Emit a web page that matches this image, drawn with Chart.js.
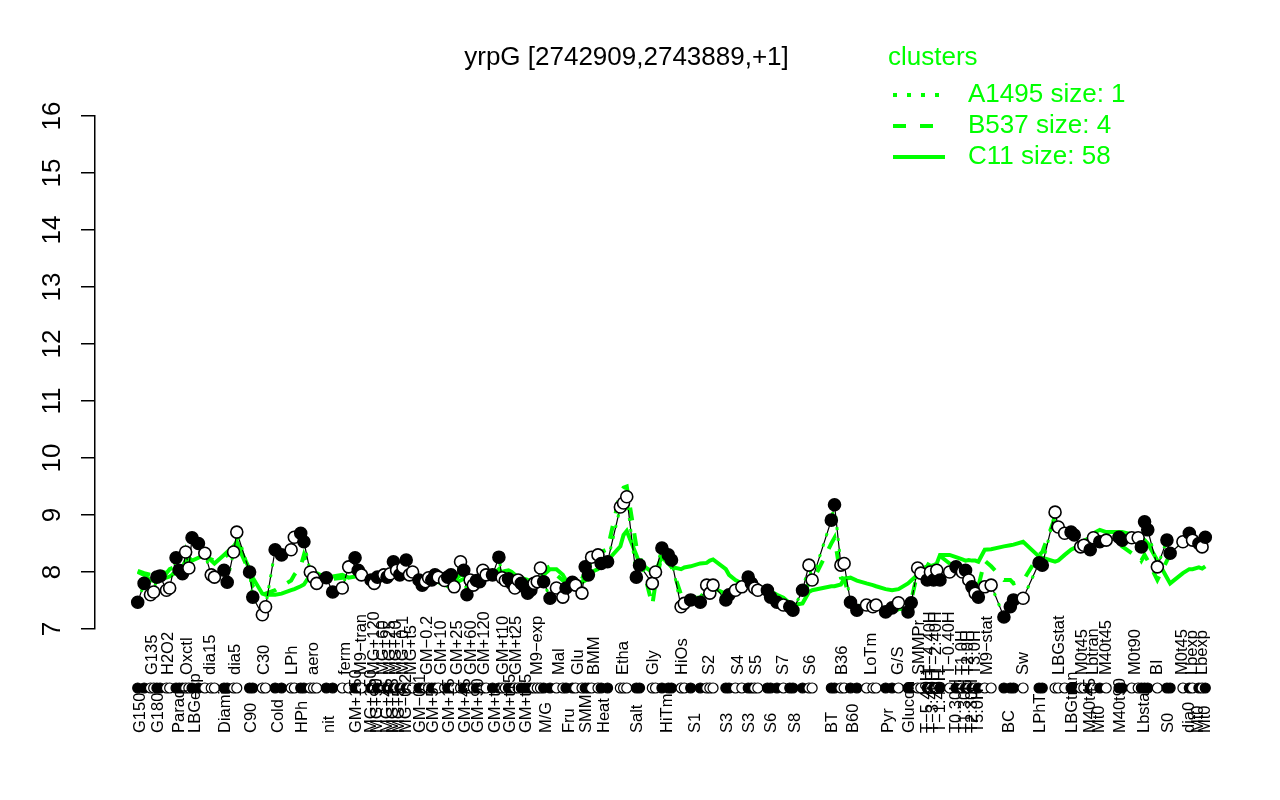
<!DOCTYPE html>
<html><head><meta charset="utf-8">
<script src="https://cdn.jsdelivr.net/npm/chart.js@4.4.0/dist/chart.umd.min.js"></script>
<style>html,body{margin:0;padding:0;background:#fff}#wrap{width:1280px;height:800px}</style>
</head><body><div id="wrap"><canvas id="c" width="1280" height="800"></canvas></div>
<script>
const chartTitle = 'yrpG [2742909,2743889,+1]';
const legendTitle = 'clusters';
const clusterNames = ['A1495 size: 1', 'B537 size: 4', 'C11 size: 58'];
const yTickRange = [7, 16];

const conditions = [
 'G150','G150','G135','G135','G180','G180','H2O2','H2O2','Paraq','Paraq',
 'Paraq','Oxctl','Oxctl','LBGexp','LBGexp','dia15','dia15','dia15','Diami','Diami',
 'dia5','dia5','C90','C90','C30','C30','Cold','Cold','LPh','LPh',
 'HPh','HPh','aero','aero','aero','nit','nit','ferm','ferm','GM+150',
 'GM+150','M9\u2212tran','MG+150','MG+120','MG+90','MG+60','MG+45','MG+25','MG+15','MG+10',
 'MG+5','MG\u22120.1','MG\u22120.2','MG+t5','MG+t5','GM\u22120.1','GM\u22120.1','GM\u22120.2','GM\u22120.2','GM+5',
 'GM+5','GM+10','GM+10','GM+15','GM+15','GM+25','GM+25','GM+45','GM+45','GM+60',
 'GM+60','GM+90','GM+90','GM+120','GM+120','GM+t5','GM+t5','GM+t10','GM+t10','GM+t15',
 'GM+t15','GM+t25','GM+t25','GM+t45','GM+t45','GM+t45','GM+t45','M9\u2212exp','M9\u2212exp','M9\u2212exp',
 'M/G','M/G','Mal','Mal','Fru','Fru','Glu','Glu','SMM','SMM',
 'BMM','BMM','Heat','Heat','Etha','Etha','Etha','Salt','Salt','Gly',
 'Gly','HiTm','HiTm','HiTm','HiOs','HiOs','S1','S1','S2','S2',
 'S2','S3','S3','S4','S4','S3','S3','S5','S5','S6',
 'S6','S6','S7','S8','S8','S8','S6','S6','BT','BT',
 'B36','B36','B60','B60','LoTm','LoTm','LoTm','Pyr','Pyr','G/S',
 'Glucon','Glucon','SMMPr','SMMPr','T\u22125.40H','T\u22124.40H','T\u22123.40H','T\u22122.40H','T\u22121.40H','T\u22120.40H',
 'T0.30H','T1.0H','T1.30H','T2.0H','T2.30H','T3.0H','T5.0H','M9\u2212stat','M9\u2212stat','BC',
 'BC','BC','Sw','LPhT','LPhT','LBGstat','LBGstat','LBGstat','LBGtran','LBGtran',
 'M0t45','M0t45','M40t45','Lbtran','Mt0','M40t45','M40t90','M40t90','M0t90','M0t90',
 'Lbstat','Lbstat','Lbstat','BI','S0','S0','M0t45','dia0','Lbexp','Mt0',
 'Lbexp','Mt0'
];

const positions = [
 1,3,5,6,7,8,10,11,13,14,
 15,16,17,18,20,22,24,25,28,29,
 31,32,36,37,40,41,44,46,49,50,
 52,53,55,56,57,60,62,65,67,69,
 70,71,74,75,76,78,79,80,81,82,
 83,84,85,86,87,89,90,91,92,93,
 94,95,97,98,99,100,102,103,104,105,
 106,107,108,109,110,112,114,115,116,117,
 118,119,120,121,122,123,124,125,126,127,
 128,130,132,134,135,137,138,140,141,142,
 143,145,146,148,152,153,154,157,158,162,
 163,165,167,168,171,172,174,177,179,180,
 181,185,186,188,190,192,193,194,195,198,
 199,201,203,205,206,209,211,212,218,219,
 221,222,224,226,229,231,232,235,237,239,
 242,243,245,246,248,249,250,251,252,255,
 257,259,260,261,262,263,264,266,268,272,
 274,275,278,283,284,288,289,291,293,294,
 296,297,299,300,302,304,308,309,312,314,
 315,316,317,320,323,324,328,330,331,333,
 334,335
];

const expression = [
 7.47,7.80,7.60,7.65,7.91,7.93,7.68,7.72,8.25,8.03,
 7.97,8.35,8.07,8.60,8.50,8.33,7.95,7.91,8.03,7.82,
 8.35,8.70,8.00,7.56,7.25,7.39,8.39,8.30,8.39,8.61,
 8.68,8.53,8.00,7.90,7.80,7.90,7.65,7.72,8.09,8.25,
 8.03,7.95,7.86,7.80,7.91,7.95,7.91,7.97,8.18,8.03,
 7.95,8.08,8.21,7.95,8.00,7.86,7.77,7.83,7.90,7.86,
 7.95,7.91,7.85,7.91,7.95,7.74,8.18,8.03,7.60,7.86,
 7.77,7.85,7.83,8.03,7.95,7.95,8.26,7.90,7.85,7.88,
 7.80,7.72,7.86,7.80,7.74,7.63,7.68,7.80,7.83,8.07,
 7.83,7.54,7.72,7.56,7.72,7.82,7.77,7.63,8.09,7.95,
 8.26,8.30,8.15,8.18,9.14,9.21,9.32,7.91,8.12,7.80,
 8.00,8.42,8.30,8.21,7.39,7.45,7.51,7.47,7.77,7.63,
 7.77,7.51,7.60,7.68,7.74,7.91,7.80,7.72,7.68,7.68,
 7.56,7.47,7.42,7.39,7.33,7.68,8.12,7.86,8.91,9.18,
 8.12,8.15,7.47,7.33,7.42,7.39,7.42,7.30,7.37,7.46,
 7.30,7.46,8.07,7.98,7.86,8.00,7.86,8.03,7.86,8.00,
 8.09,8.00,8.03,7.86,7.74,7.63,7.56,7.74,7.77,7.21,
 7.39,7.51,7.54,8.16,8.12,9.05,8.79,8.68,8.70,8.65,
 8.44,8.47,8.39,8.60,8.53,8.56,8.61,8.56,8.60,8.60,
 8.44,8.88,8.74,8.09,8.56,8.33,8.53,8.68,8.56,8.50,
 8.44,8.61
];

const clusterC11 = [
 8.00,7.95,7.85,7.85,7.90,7.95,7.90,7.92,8.00,7.97,
 7.97,8.05,8.25,8.20,8.25,8.30,8.20,8.15,8.30,8.35,
 8.45,8.53,8.05,7.90,7.62,7.60,7.60,7.62,7.68,7.70,
 7.75,7.78,7.95,8.00,7.98,7.90,7.92,7.95,7.90,7.92,
 7.95,7.93,7.90,7.88,7.90,7.92,7.90,7.93,7.95,7.93,
 7.90,7.92,7.95,7.90,7.88,7.85,7.82,7.85,7.86,7.85,
 7.86,7.82,7.78,7.75,7.78,7.80,7.85,7.88,7.86,7.88,
 7.90,7.88,7.90,7.92,7.95,7.95,7.98,8.00,8.02,8.03,
 8.00,7.95,7.92,7.90,7.88,7.86,7.85,7.85,7.88,7.90,
 7.95,8.05,8.05,7.95,7.85,7.80,7.80,7.82,7.85,7.88,
 8.00,8.05,8.12,8.20,8.45,8.65,8.72,8.30,8.15,8.00,
 8.02,8.26,8.15,8.09,8.05,8.08,8.10,8.15,8.16,8.20,
 8.22,8.05,7.95,7.86,7.80,7.78,7.76,7.75,7.74,7.70,
 7.66,7.60,7.55,7.45,7.42,7.45,7.65,7.68,7.75,7.75,
 7.78,7.88,7.90,7.85,7.80,7.77,7.75,7.70,7.68,7.70,
 7.80,7.85,7.95,8.00,8.03,8.10,8.12,8.15,8.30,8.30,
 8.26,8.22,8.20,8.21,8.20,8.20,8.18,8.39,8.40,8.45,
 8.47,8.48,8.53,8.27,8.25,8.18,8.20,8.30,8.39,8.42,
 8.50,8.55,8.60,8.68,8.74,8.70,8.70,8.70,8.66,8.65,
 8.60,8.56,8.50,8.20,7.90,7.80,7.98,8.05,8.05,8.08,
 8.06,8.10
];

const clusterB537 = [
 8.02,7.98,7.95,7.97,8.00,8.02,7.98,8.05,8.10,8.05,
 8.08,8.20,8.30,8.30,8.25,8.28,8.22,8.20,8.25,8.30,
 8.40,8.50,8.00,7.75,7.60,7.62,7.68,7.75,7.85,7.95,
 8.10,8.30,8.00,7.95,7.90,7.92,7.88,7.90,7.95,8.00,
 7.98,7.95,7.92,7.90,7.93,7.95,7.93,7.96,8.00,7.98,
 7.95,7.98,8.02,7.95,7.95,7.90,7.88,7.88,7.90,7.90,
 7.92,7.90,7.88,7.90,7.92,7.85,7.95,7.95,7.85,7.88,
 7.87,7.88,7.90,7.95,7.95,7.95,8.05,7.98,7.95,7.95,
 7.92,7.88,7.90,7.88,7.86,7.82,7.85,7.90,7.95,8.00,
 8.05,8.10,7.95,7.85,7.85,7.88,7.90,7.88,8.00,8.05,
 8.20,8.30,8.35,8.40,9.40,9.48,9.50,8.45,8.30,7.42,
 7.80,8.30,8.20,8.10,7.60,7.55,7.55,7.55,7.70,7.70,
 7.72,7.62,7.65,7.68,7.72,7.78,7.75,7.72,7.70,7.65,
 7.58,7.52,7.48,7.45,7.42,7.60,7.80,7.82,8.50,8.60,
 7.90,7.88,7.50,7.40,7.42,7.40,7.38,7.30,7.28,7.35,
 7.35,7.50,8.00,8.05,8.10,8.20,8.22,8.25,8.28,8.15,
 8.05,8.00,8.00,7.95,7.85,7.80,7.75,8.20,8.10,7.86,
 7.86,7.80,7.85,8.30,8.35,8.96,8.80,8.70,8.55,8.45,
 8.40,8.38,8.35,8.45,8.53,8.55,8.50,8.45,8.33,8.30,
 8.20,8.30,8.20,7.86,8.20,8.30,8.50,8.55,8.58,8.60,
 8.55,8.60
];

// the gene is the only member of cluster A1495, so its mean profile is the gene profile
const clusterA1495 = expression;

const FONT = '"Liberation Sans", Arial, Helvetica, sans-serif';
const GREEN = '#00ff00';

// condition groups (consecutive identical labels)
const groups = [];
conditions.forEach((c, i) => {
  if (i === 0 || c !== conditions[i - 1]) groups.push({ label: c, idx: [i] });
  else groups[groups.length - 1].idx.push(i);
});
const groupOf = [];
groups.forEach((g, gi) => g.idx.forEach(i => { groupOf[i] = gi; }));
const fills = groupOf.map(g => (g % 2 === 0 ? '#000000' : '#ffffff'));

const pts = arr => positions.map((p, i) => ({ x: p, y: arr[i] }));
const span = positions[positions.length - 1] - positions[0];
const xMin = positions[0] - 0.04 * span;
const xMax = positions[positions.length - 1] + 0.04 * span;

const rPlugin = {
  id: 'rstyle',
  afterDraw(chart) {
    const ctx = chart.ctx, xs = chart.scales.x, ys = chart.scales.y, ca = chart.chartArea;
    ctx.save();
    // y tick labels, rotated like R (las = 0)
    ctx.fillStyle = '#000';
    ctx.font = '26px ' + FONT;
    ctx.textAlign = 'center';
    ctx.textBaseline = 'middle';
    ys.ticks.forEach(t => {
      const y = ys.getPixelForValue(t.value);
      ctx.save(); ctx.translate(ca.left - 42, y); ctx.rotate(-Math.PI / 2);
      ctx.fillText(String(t.value), 0, 0); ctx.restore();
    });
    // rug of condition markers
    const rugY = ca.bottom + 59;
    positions.forEach((p, i) => {
      const x = xs.getPixelForValue(p);
      ctx.beginPath(); ctx.arc(x, rugY, 5, 0, Math.PI * 2);
      ctx.fillStyle = fills[i]; ctx.fill();
      ctx.lineWidth = 1.2; ctx.strokeStyle = '#000'; ctx.stroke();
    });
    // condition labels, alternating below/above the rug
    ctx.fillStyle = '#000';
    ctx.font = '16.5px ' + FONT;
    ctx.textAlign = 'left';
    ctx.textBaseline = 'middle';
    groups.forEach((g, gi) => {
      const mean = g.idx.reduce((s, i) => s + positions[i], 0) / g.idx.length;
      const x = xs.getPixelForValue(mean);
      const y0 = gi % 2 === 0 ? ca.bottom + 104 : ca.bottom + 46;
      ctx.save(); ctx.translate(x, y0); ctx.rotate(-Math.PI / 2);
      ctx.fillText(g.label, 0, 0); ctx.restore();
    });
    // title
    ctx.font = '26px ' + FONT;
    ctx.textAlign = 'center';
    ctx.fillText(chartTitle, (ca.left + ca.right) / 2 - 45, 58);
    // legend
    const lx = 888;
    ctx.fillStyle = GREEN;
    ctx.textAlign = 'left';
    ctx.fillText(legendTitle, lx, 58);
    const rows = [95, 126, 157];
    const dashes = [[4, 10], [13, 14], []];
    clusterNames.forEach((n, k) => {
      ctx.strokeStyle = GREEN; ctx.lineWidth = 4; ctx.lineCap = 'butt';
      ctx.setLineDash(dashes[k]);
      ctx.beginPath(); ctx.moveTo(lx + 5, rows[k]); ctx.lineTo(lx + 57, rows[k]); ctx.stroke();
      ctx.setLineDash([]);
      ctx.fillText(n, lx + 80, rows[k]);
    });
    ctx.restore();
  }
};

new Chart(document.getElementById('c'), {
  type: 'line',
  data: {
    datasets: [
      { label: 'points', data: pts(expression), showLine: false, order: 0,
        pointRadius: 6, pointBorderWidth: 1.6, pointBorderColor: '#000',
        pointBackgroundColor: fills, clip: false },
      { label: 'A1495', data: pts(clusterA1495), order: 1, borderColor: GREEN, borderWidth: 3,
        borderDash: [3, 8], pointRadius: 0, tension: 0, fill: false },
      { label: 'gene', data: pts(expression), order: 2, borderColor: '#000', borderWidth: 1.2,
        pointRadius: 0, tension: 0, fill: false },
      { label: 'B537', data: pts(clusterB537), order: 3, borderColor: GREEN, borderWidth: 4,
        borderDash: [13, 13], pointRadius: 0, tension: 0, fill: false },
      { label: 'C11', data: pts(clusterC11), order: 4, borderColor: GREEN, borderWidth: 4,
        pointRadius: 0, tension: 0, fill: false }
    ]
  },
  options: {
    responsive: false, animation: false, devicePixelRatio: 1, events: [],
    layout: { padding: { top: 116, bottom: 171, left: 0, right: 32 } },
    plugins: { legend: { display: false }, title: { display: false }, tooltip: { enabled: false } },
    scales: {
      x: { type: 'linear', display: false, min: xMin, max: xMax },
      y: { min: yTickRange[0], max: yTickRange[1],
           ticks: { stepSize: 1, display: false },
           grid: { drawOnChartArea: false, drawTicks: true, tickLength: 14, color: '#000', lineWidth: 1.5 },
           border: { display: true, color: '#000', width: 1.5 },
           afterFit(s) { s.width = 95; } }
    }
  },
  plugins: [rPlugin]
});
</script>
</body></html>
